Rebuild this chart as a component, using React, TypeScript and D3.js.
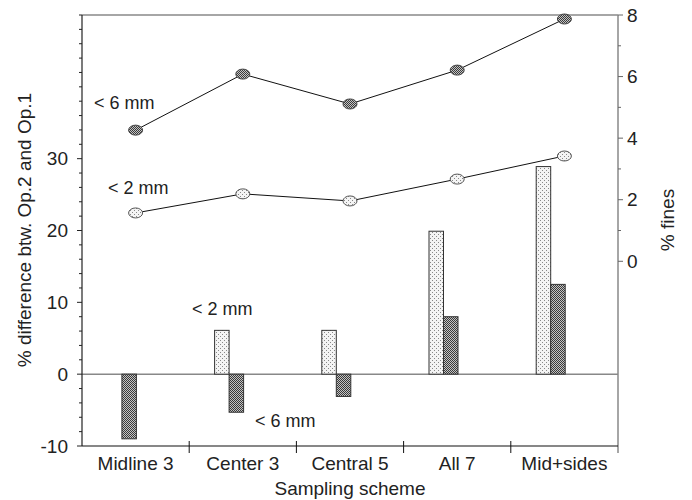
import React from "react";
import * as d3 from "d3";

const categories = ["Midline 3", "Center 3", "Central 5", "All 7", "Mid+sides"];
const diff2mm: (number | null)[] = [null, 6.1, 6.1, 19.9, 28.9];
const diff6mm: number[] = [-9.0, -5.3, -3.1, 8.0, 12.5];
const fines2mm: number[] = [1.57, 2.19, 1.96, 2.67, 3.42];
const fines6mm: number[] = [4.26, 6.08, 5.11, 6.21, 7.87];
const leftTickLabels = [-10, 0, 10, 20, 30];
const rightTickLabels = [0, 2, 4, 6, 8];

const W = 692, H = 500;
const L = 82, R = 618, T = 15, B = 446;
const FONT = "'Liberation Sans', Arial, sans-serif";
const TXT = "#222";

export default function App() {
  const x = d3.scaleBand<string>().domain(categories).range([L, R]).paddingInner(0).paddingOuter(0);
  const yL = d3.scaleLinear().domain([-10, 50]).range([B, T]);
  const yR = d3.scaleLinear().domain([-6, 8]).range([B, T]);
  const bw = 14.5;
  const cx = (c: string) => (x(c) as number) + x.bandwidth() / 2;

  const line = d3.line<number>().x((_, i) => cx(categories[i])).y((d) => yR(d));

  const leftMinor = d3.range(-10, 50.1, 2);
  const rightMinor = d3.range(0, 8.1, 1);
  const boundaries = categories.slice(1).map((c) => x(c) as number);

  return (
    <svg width={W} height={H} style={{ position: "absolute", left: 0, top: 0, background: "#fff" }}
      fontFamily={FONT}>
      <defs>
        <pattern id="light" width="4" height="4" patternUnits="userSpaceOnUse">
          <rect width="4" height="4" fill="#f4f4f4" />
          <rect x="0" y="0" width="1" height="1" fill="#888" />
          <rect x="2" y="2" width="1" height="1" fill="#888" />
        </pattern>
        <pattern id="dark" width="2" height="2" patternUnits="userSpaceOnUse">
          <rect width="2" height="2" fill="#c4c4c4" />
          <rect x="0" y="0" width="1" height="1" fill="#3a3a3a" />
          <rect x="1" y="1" width="1" height="1" fill="#3a3a3a" />
        </pattern>
      </defs>

      {/* top frame */}
      <line x1={L} x2={R} y1={T} y2={T} stroke="#888" strokeWidth={1.5} />
      {/* zero line */}
      <line x1={L} x2={R} y1={yL(0)} y2={yL(0)} stroke="#888" strokeWidth={1.5} />

      {/* bars */}
      {categories.map((c, i) => {
        const c0 = cx(c) + 0.8;
        const v2 = diff2mm[i];
        const v6 = diff6mm[i];
        return (
          <g key={c}>
            {v2 !== null && (
              <rect x={c0 - 2 * bw} width={bw} y={Math.min(yL(v2), yL(0))}
                height={Math.abs(yL(v2) - yL(0))} fill="url(#light)" stroke="#333" strokeWidth={1} />
            )}
            <rect x={c0 - bw} width={bw} y={Math.min(yL(v6), yL(0))}
              height={Math.abs(yL(v6) - yL(0))} fill="url(#dark)" stroke="#333" strokeWidth={1} />
          </g>
        );
      })}

      {/* lines */}
      <path d={line(fines6mm) as string} fill="none" stroke="#111" strokeWidth={1} />
      <path d={line(fines2mm) as string} fill="none" stroke="#111" strokeWidth={1} />
      {fines6mm.map((v, i) => (
        <ellipse key={"m6" + i} cx={cx(categories[i])} cy={yR(v)} rx={7} ry={5}
          fill="url(#dark)" stroke="#444" strokeWidth={1} />
      ))}
      {fines2mm.map((v, i) => (
        <ellipse key={"m2" + i} cx={cx(categories[i])} cy={yR(v)} rx={7} ry={5}
          fill="url(#light)" stroke="#555" strokeWidth={1} />
      ))}

      {/* left axis */}
      <line x1={L} x2={L} y1={T} y2={B} stroke="#222" strokeWidth={1.2} />
      {leftMinor.map((v) => (
        <line key={"lm" + v} x1={L} x2={L - (v % 10 === 0 && v <= 30 ? 5 : 3)} y1={yL(v)} y2={yL(v)}
          stroke="#222" strokeWidth={1} />
      ))}
      {leftTickLabels.map((v) => (
        <text key={"lt" + v} x={L - 14} y={yL(v)} dy="0.35em" textAnchor="end" fontSize={19} fill={TXT}>
          {v}
        </text>
      ))}

      {/* right axis */}
      <line x1={R} x2={R} y1={T} y2={B + 7} stroke="#888" strokeWidth={1.5} />
      {rightMinor.map((v) => (
        <line key={"rm" + v} x1={R} x2={R + (v % 2 === 0 ? 5 : 3)} y1={yR(v)} y2={yR(v)}
          stroke="#666" strokeWidth={1} />
      ))}
      {rightTickLabels.map((v) => (
        <text key={"rt" + v} x={R + 9} y={yR(v)} dy="0.35em" textAnchor="start" fontSize={19} fill={TXT}>
          {v}
        </text>
      ))}

      {/* bottom axis */}
      <line x1={L} x2={R} y1={B} y2={B} stroke="#111" strokeWidth={1.2} />
      {boundaries.map((b, i) => (
        <line key={"bt" + i} x1={b} x2={b} y1={B - 5} y2={B + 7} stroke="#111" strokeWidth={1} />
      ))}
      {categories.map((c) => (
        <text key={"xl" + c} x={cx(c)} y={470} textAnchor="middle" fontSize={19} fill={TXT}>
          {c}
        </text>
      ))}
      <text x={(L + R) / 2} y={495} textAnchor="middle" fontSize={19} fill={TXT}>Sampling scheme</text>

      {/* axis titles */}
      <text transform={`translate(31,230) rotate(-90)`} textAnchor="middle" fontSize={19} fill={TXT}>
        % difference btw. Op.2 and Op.1
      </text>
      <text transform={`translate(674,220) rotate(-90)`} textAnchor="middle" fontSize={19} fill={TXT}>
        % fines
      </text>

      {/* annotations */}
      <text x={94} y={103} dy="0.35em" fontSize={18} fill={TXT}>&lt; 6 mm</text>
      <text x={108} y={188} dy="0.35em" fontSize={18} fill={TXT}>&lt; 2 mm</text>
      <text x={192} y={309} dy="0.35em" fontSize={18} fill={TXT}>&lt; 2 mm</text>
      <text x={255} y={421} dy="0.35em" fontSize={18} fill={TXT}>&lt; 6 mm</text>
    </svg>
  );
}
